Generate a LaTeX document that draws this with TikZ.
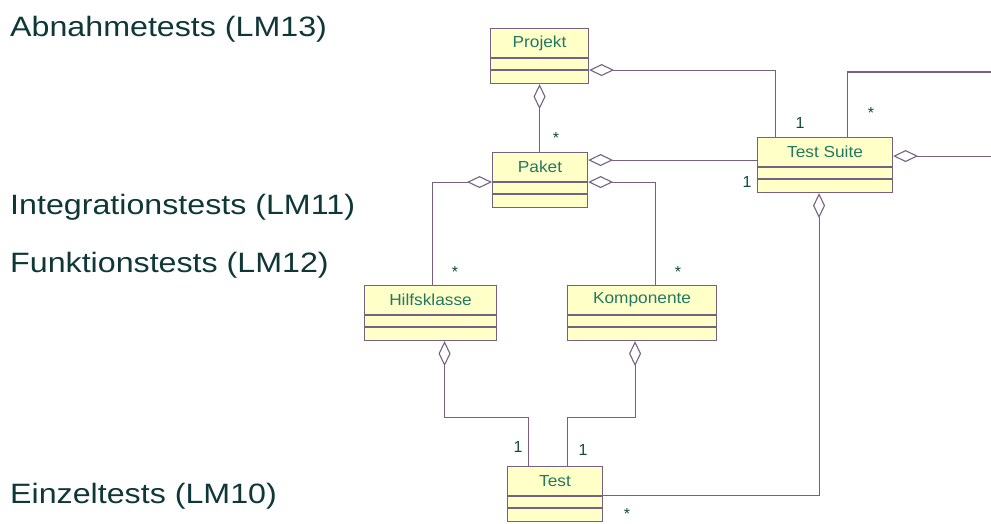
\documentclass[tikz,border=0pt]{standalone}
\usepackage{fontspec}
\usepackage{graphicx}
\setmainfont{Liberation Sans}
\usetikzlibrary{arrows.meta,calc}

\definecolor{umlline}{RGB}{118,98,128}
\definecolor{umlfill}{RGB}{255,255,200}
\definecolor{umltext}{RGB}{35,120,100}
\definecolor{leveltext}{RGB}{15,55,55}

\tikzset{
  umlbox/.style={draw=umlline, fill=umlfill, line width=1.1pt, inner sep=0pt,
    anchor=north west, minimum height=55},
  boxrule/.style={draw=umlline, line width=1.1pt},
  boxtitle/.style={text=umltext, inner sep=0pt, font=\fontsize{16}{16}\selectfont},
  agg/.style={draw=umlline, line width=1.1pt,
    {Diamond[open, length=25pt, width=12pt, line width=1.1pt]}-},
  mult/.style={text=umltext!60!black, inner sep=0pt, anchor=base,
    font=\fontsize{16}{16}\selectfont},
  level/.style={text=leveltext, inner sep=0pt, anchor=base west,
    font=\fontsize{28}{28}\selectfont}
}

% class box with title compartment and two empty compartments
\newcommand{\umlclass}[5]{%
  \node[umlbox, minimum width=#4] (#1) at (#2,#3) {};
  \node[boxtitle] (#1-title) at ($(#1.north)+(0,15)$) {\scalebox{1.08}[1]{#5}};
  \draw[boxrule] ($(#1.north west)+(0,30)$) -- ($(#1.north east)+(0,30)$);
  \draw[boxrule] ($(#1.north west)+(0,42)$) -- ($(#1.north east)+(0,42)$);
}

\begin{document}
\begin{tikzpicture}[x=1pt, y=-1pt]
  \useasboundingbox (0,0) rectangle (991,523);
  \clip (0,0) rectangle (991,523);

  % test levels
  \node[level] (lm13) at (10,36)  {\scalebox{1.15}[1]{Abnahmetests (LM13)}};
  \node[level] (lm11) at (10,214) {\scalebox{1.15}[1]{Integrationstests (LM11)}};
  \node[level] (lm12) at (10,272) {\scalebox{1.15}[1]{Funktionstests (LM12)}};
  \node[level] (lm10) at (10,503) {\scalebox{1.15}[1]{Einzeltests (LM10)}};

  % classes
  \umlclass{projekt}{490}{28}{98}{Projekt}
  \umlclass{paket}{492}{152}{95}{Paket}
  \umlclass{suite}{757}{137}{135}{Test Suite}
  \umlclass{hilf}{364}{285}{132}{Hilfsklasse}
  \umlclass{komp}{567}{285}{149}{Komponente}
  \umlclass{test}{507}{466}{95}{Test}

  % aggregations
  \draw[agg] ([yshift=-14pt]projekt.east) -| ([xshift=-50pt]suite.north);
  \draw[agg] (projekt.south) -- (projekt.south |- paket.north);
  \draw[agg] ([yshift=20pt]paket.east) coordinate (pk1) -- (pk1 -| suite.west);
  \draw[agg] ([yshift=-2pt]paket.east) -| ([xshift=13pt]komp.north);
  \draw[agg] ([yshift=-2pt]paket.west) -| ([xshift=2pt]hilf.north);
  \coordinate (loopcorner) at (1000,72);
  \draw[agg] ([yshift=9pt]suite.east) -| (loopcorner) -| ([xshift=22pt]suite.north);
  \draw[agg] ([xshift=-6pt]suite.south) |- ([yshift=-1pt]test.east);
  \draw[agg] ([xshift=14pt]hilf.south) -- ++(0,76) -| ([xshift=-27pt]test.north);
  \draw[agg] ([xshift=-7pt]komp.south) -- ++(0,76) -| ([xshift=12pt]test.north);

  % multiplicities
  \node[mult] (m1) at (800,128) {1};
  \node[mult] (m2) at (871,118) {*};
  \node[mult] (m3) at (747,187) {1};
  \node[mult] (m4) at (556,143) {*};
  \node[mult] (m5) at (455,277) {*};
  \node[mult] (m6) at (678,277) {*};
  \node[mult] (m7) at (518,452) {1};
  \node[mult] (m8) at (583,455) {1};
  \node[mult] (m9) at (627,519) {*};
\end{tikzpicture}
\end{document}
